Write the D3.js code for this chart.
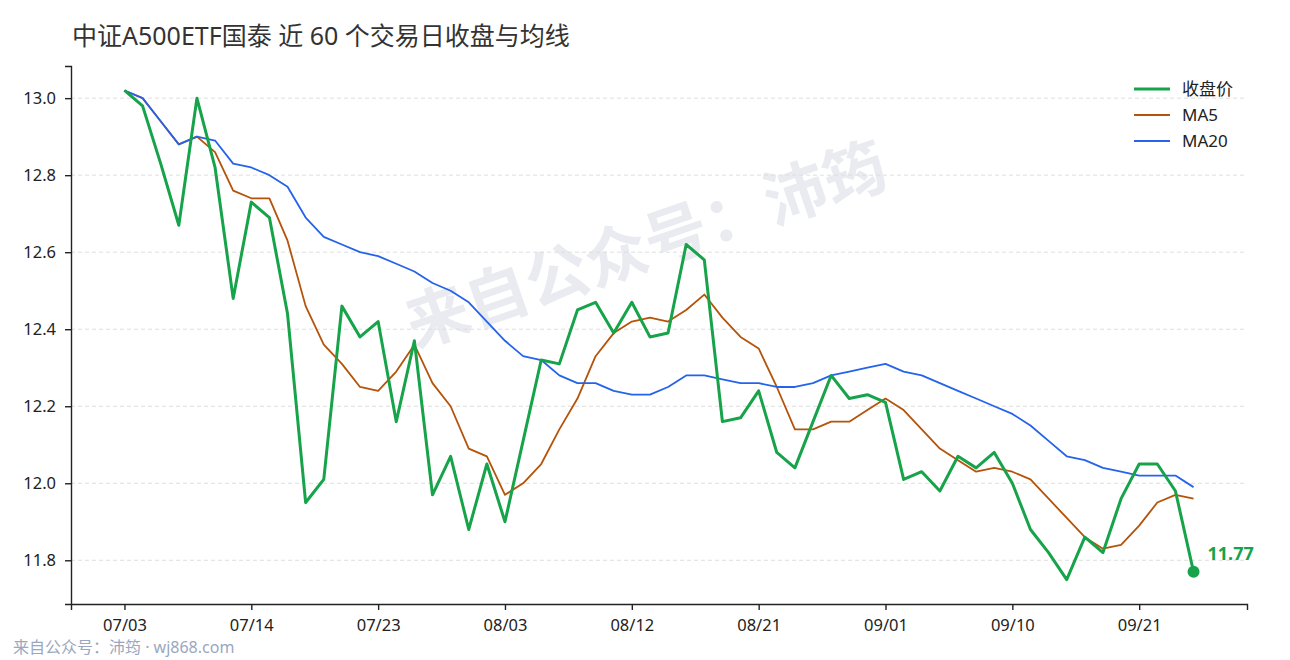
<!DOCTYPE html>
<html lang="zh">
<head>
	<meta charset="utf-8">
	<title>中证A500ETF国泰 近 60 个交易日收盘与均线</title>
	<script src="https://d3js.org/d3.v7.min.js" charset="utf-8"></script>
	<style>
	body { margin: 0; background: #fff; }
	svg text { font-family: "Noto Sans", "Noto Sans CJK SC", sans-serif; }
	.grid line { stroke: #dedede; stroke-dasharray: 4,3; }
	.axis path, .axis line { stroke: #222; stroke-width: 1.4; }
	.axis text { fill: #222; font-size: 16.5px; }
	</style>
</head>
<body>
	<script>
	// 60 trading days
	var dates = [
		'07/03','07/04','07/07','07/08','07/09','07/10','07/11','07/14','07/15','07/16',
		'07/17','07/18','07/21','07/22','07/23','07/24','07/25','07/28','07/29','07/30',
		'07/31','08/03','08/04','08/05','08/06','08/07','08/08','08/11','08/12','08/13',
		'08/14','08/15','08/18','08/19','08/20','08/21','08/22','08/25','08/26','08/27',
		'08/28','08/29','09/01','09/02','09/03','09/04','09/05','09/08','09/09','09/10',
		'09/11','09/12','09/15','09/16','09/17','09/18','09/21','09/22','09/23','09/24'
	];
	var close = [
		13.02,12.98,12.83,12.67,13.00,12.82,12.48,12.73,12.69,12.44,
		11.95,12.01,12.46,12.38,12.42,12.16,12.37,11.97,12.07,11.88,
		12.05,11.90,12.11,12.32,12.31,12.45,12.47,12.39,12.47,12.38,
		12.39,12.62,12.58,12.16,12.17,12.24,12.08,12.04,12.16,12.28,
		12.22,12.23,12.21,12.01,12.03,11.98,12.07,12.04,12.08,12.00,
		11.88,11.82,11.75,11.86,11.82,11.96,12.05,12.05,11.98,11.77
	];
	var ma5 = [
		13.02,13.00,12.94,12.88,12.90,12.86,12.76,12.74,12.74,12.63,
		12.46,12.36,12.31,12.25,12.24,12.29,12.36,12.26,12.20,12.09,
		12.07,11.97,12.00,12.05,12.14,12.22,12.33,12.39,12.42,12.43,
		12.42,12.45,12.49,12.43,12.38,12.35,12.25,12.14,12.14,12.16,
		12.16,12.19,12.22,12.19,12.14,12.09,12.06,12.03,12.04,12.03,
		12.01,11.96,11.91,11.86,11.83,11.84,11.89,11.95,11.97,11.96
	];
	var ma20 = [
		13.02,13.00,12.94,12.88,12.90,12.89,12.83,12.82,12.80,12.77,
		12.69,12.64,12.62,12.60,12.59,12.57,12.55,12.52,12.50,12.47,
		12.42,12.37,12.33,12.32,12.28,12.26,12.26,12.24,12.23,12.23,
		12.25,12.28,12.28,12.27,12.26,12.26,12.25,12.25,12.26,12.28,
		12.29,12.30,12.31,12.29,12.28,12.26,12.24,12.22,12.20,12.18,
		12.15,12.11,12.07,12.06,12.04,12.03,12.02,12.02,12.02,11.99
	];
	var yTicks = [11.8, 12.0, 12.2, 12.4, 12.6, 12.8, 13.0];
	var xTicks = [0, 7, 14, 21, 28, 35, 42, 49, 56];

	var series = [
		{ name: '收盘价', values: close, color: '#16a34a', width: 3 },
		{ name: 'MA5', values: ma5, color: '#b45309', width: 1.8 },
		{ name: 'MA20', values: ma20, color: '#2563eb', width: 1.8 }
	];

	var width = 1290;
	var height = 660;
	var margin = { top: 66, right: 43, bottom: 56, left: 71 };

	var svg = d3.select('body')
	.append('svg')
	.attr('width', width)
	.attr('height', height);

	var n = close.length;
	var xPad = (n - 1) * 0.05;
	var x = d3.scaleLinear()
	.domain([-xPad, n - 1 + xPad])
	.range([margin.left, width - margin.right]);

	var all = close.concat(ma5, ma20);
	var lo = d3.min(all), hi = d3.max(all);
	var yPad = (hi - lo) * 0.05;
	var y = d3.scaleLinear()
	.domain([lo - yPad, hi + yPad])
	.range([height - margin.bottom, margin.top]);

	// watermark
	svg.append('text')
	.attr('transform', 'translate(648,250) rotate(-19)')
	.attr('text-anchor', 'middle')
	.attr('dominant-baseline', 'middle')
	.style('font-family', '"Noto Sans CJK SC", sans-serif')
	.style('font-size', '63px')
	.style('font-weight', 'bold')
	.style('fill', '#e9ebf0')
	.text('来自公众号：沛筠');

	// grid
	svg.append('g')
	.attr('class', 'grid')
	.selectAll('line')
	.data(yTicks)
	.enter()
	.append('line')
	.attr('x1', margin.left)
	.attr('x2', width - margin.right)
	.attr('y1', function(d) { return y(d); })
	.attr('y2', function(d) { return y(d); });

	// lines, MA5 under MA20 under close
	var line = d3.line()
	.x(function(d, i) { return x(i); })
	.y(function(d) { return y(d); });

	var order = [series[1], series[2], series[0]];
	svg.append('g')
	.selectAll('path')
	.data(order)
	.enter()
	.append('path')
	.attr('fill', 'none')
	.attr('stroke', function(d) { return d.color; })
	.attr('stroke-width', function(d) { return d.width; })
	.attr('stroke-linejoin', 'round')
	.attr('d', function(d) { return line(d.values); });

	// last close marker
	var last = n - 1;
	svg.append('circle')
	.attr('cx', x(last))
	.attr('cy', y(close[last]))
	.attr('r', 6)
	.attr('fill', '#16a34a');

	svg.append('text')
	.attr('x', x(last) + 14)
	.attr('y', y(close[last]) - 12)
	.style('font-size', '18px')
	.style('font-weight', 'bold')
	.style('fill', '#16a34a')
	.text(close[last].toFixed(2));

	// axes
	var xAxis = d3.axisBottom(x)
	.tickValues(xTicks)
	.tickFormat(function(i) { return dates[i]; })
	.tickSizeOuter(0)
	.tickSize(6)
	.tickPadding(9);

	svg.append('g')
	.attr('class', 'axis')
	.attr('transform', 'translate(0,' + (height - margin.bottom) + ')')
	.call(xAxis);

	var yAxis = d3.axisLeft(y)
	.tickValues(yTicks)
	.tickFormat(d3.format('.1f'))
	.tickSizeOuter(0)
	.tickSize(6)
	.tickPadding(9);

	svg.append('g')
	.attr('class', 'axis')
	.attr('transform', 'translate(' + margin.left + ',0)')
	.call(yAxis);

	// legend
	var legend = svg.append('g')
	.attr('transform', 'translate(1134,89)');

	var item = legend.selectAll('g')
	.data(series)
	.enter()
	.append('g')
	.attr('transform', function(d, i) { return 'translate(0,' + (i * 26) + ')'; });

	item.append('line')
	.attr('x1', 0)
	.attr('x2', 36)
	.attr('stroke', function(d) { return d.color; })
	.attr('stroke-width', function(d) { return d.width; });

	item.append('text')
	.attr('x', 48)
	.attr('dy', '0.35em')
	.style('font-size', '17px')
	.style('fill', '#222')
	.text(function(d) { return d.name; });

	// title and footer
	svg.append('text')
	.attr('x', 72)
	.attr('y', 45)
	.style('font-size', '25px')
	.style('fill', '#333')
	.text('中证A500ETF国泰 近 60 个交易日收盘与均线');

	svg.append('text')
	.attr('x', 13)
	.attr('y', 653)
	.style('font-size', '16px')
	.style('fill', '#9aa7c0')
	.text('来自公众号：沛筠 · wj868.com');
	</script>
</body>
</html>
